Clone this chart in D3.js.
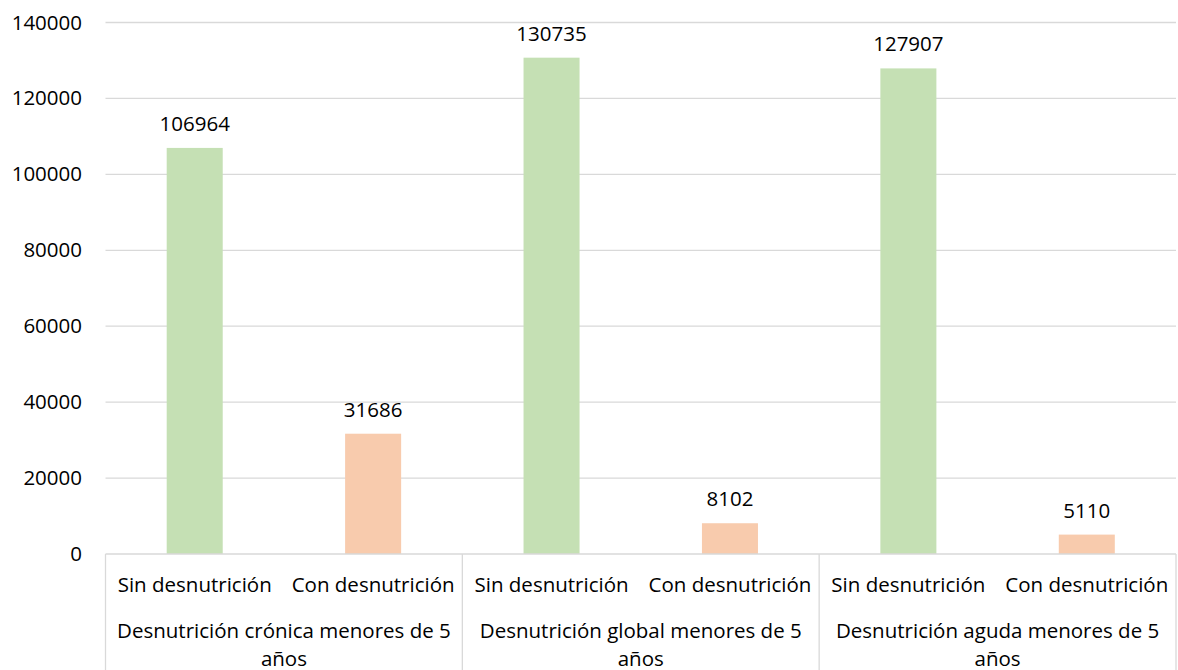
<!DOCTYPE html>
<html><head><meta charset="utf-8">
<script src="https://cdn.jsdelivr.net/npm/d3@7"></script>
<style>body{margin:0;background:#fff}svg{display:block;font-family:"Open Sans",sans-serif}</style>
</head><body><svg id="c" width="1178" height="670"></svg>
<script>
const groups = ["Desnutrición crónica menores de 5 años","Desnutrición global menores de 5 años","Desnutrición aguda menores de 5 años"];
const subcats = ["Sin desnutrición","Con desnutrición"];
const sinValues = [106964,130735,127907];
const conValues = [31686,8102,5110];
const yTicks = [0,20000,40000,60000,80000,100000,120000,140000];
const colors = {"Sin desnutrición":"#c5e0b4","Con desnutrición":"#f8cbad"};

const data = [];
groups.forEach((g,i)=>{
  data.push({group:g, sub:subcats[0], value:sinValues[i]});
  data.push({group:g, sub:subcats[1], value:conValues[i]});
});

const svg = d3.select("#c");
const L=105.5, R=1176, T=22.5, B=554;
const fs = 20.5;
const x0 = d3.scaleBand().domain(groups).range([L,R]).padding(0);
const x1 = d3.scaleBand().domain(subcats).range([0,x0.bandwidth()]).padding(0);
const y = d3.scaleLinear().domain([0,140000]).range([B,T]);
const barW = x1.bandwidth()*0.314;

// gridlines
svg.append("g").selectAll("line").data(yTicks.filter(d=>d>0)).join("line")
  .attr("x1",L).attr("x2",R).attr("y1",d=>y(d)).attr("y2",d=>y(d))
  .attr("stroke","#d9d9d9").attr("stroke-width",1.3);

// y axis labels
const yAxis = d3.axisLeft(y).tickValues(yTicks).tickSize(0).tickPadding(0).tickFormat(d3.format("d"));
const ya = svg.append("g").attr("transform",`translate(82,0)`).call(yAxis);
ya.select(".domain").remove();
ya.selectAll("text").attr("font-size",fs).attr("font-family","Open Sans").attr("fill","#000");

// bars
svg.append("g").selectAll("rect").data(data).join("rect")
  .attr("x",d=>x0(d.group)+x1(d.sub)+x1.bandwidth()/2-barW/2)
  .attr("width",barW)
  .attr("y",d=>y(d.value)).attr("height",d=>B-y(d.value))
  .attr("fill",d=>colors[d.sub]);

// data labels
svg.append("g").selectAll("text").data(data).join("text")
  .attr("x",d=>x0(d.group)+x1(d.sub)+x1.bandwidth()/2)
  .attr("y",d=>y(d.value)-17)
  .attr("text-anchor","middle").attr("font-size",fs).attr("fill","#000")
  .text(d=>d.value);

// bottom axis line and separators
svg.append("line").attr("x1",L).attr("x2",R).attr("y1",B).attr("y2",B).attr("stroke","#d9d9d9").attr("stroke-width",1.3);
const seps = groups.map(g=>x0(g)).concat([x0.range()[1]]);
svg.append("g").selectAll("line").data(seps).join("line")
  .attr("x1",d=>d).attr("x2",d=>d).attr("y1",B).attr("y2",670)
  .attr("stroke","#d9d9d9").attr("stroke-width",1.3);

// sub-category labels
svg.append("g").selectAll("text").data(data).join("text")
  .attr("x",d=>x0(d.group)+x1(d.sub)+x1.bandwidth()/2)
  .attr("y",591.5).attr("text-anchor","middle").attr("font-size",fs).attr("fill","#000")
  .text(d=>d.sub);

// group labels with wrapping
const gl = svg.append("g").selectAll("text").data(groups).join("text")
  .attr("x",d=>x0(d)+x0.bandwidth()/2).attr("y",638)
  .attr("text-anchor","middle").attr("font-size",fs).attr("fill","#000");
gl.each(function(d){
  const t = d3.select(this);
  const words = d.split(" ");
  const maxW = x0.bandwidth()-16;
  let line=[], lineNo=0;
  let ts = t.append("tspan").attr("x",x0(d)+x0.bandwidth()/2).attr("dy",0);
  words.forEach(w=>{
    line.push(w); ts.text(line.join(" "));
    if(ts.node().getComputedTextLength()>maxW && line.length>1){
      line.pop(); ts.text(line.join(" "));
      line=[w]; lineNo++;
      ts = t.append("tspan").attr("x",x0(d)+x0.bandwidth()/2).attr("dy",28).text(w);
    }
  });
});
</script></body></html>
